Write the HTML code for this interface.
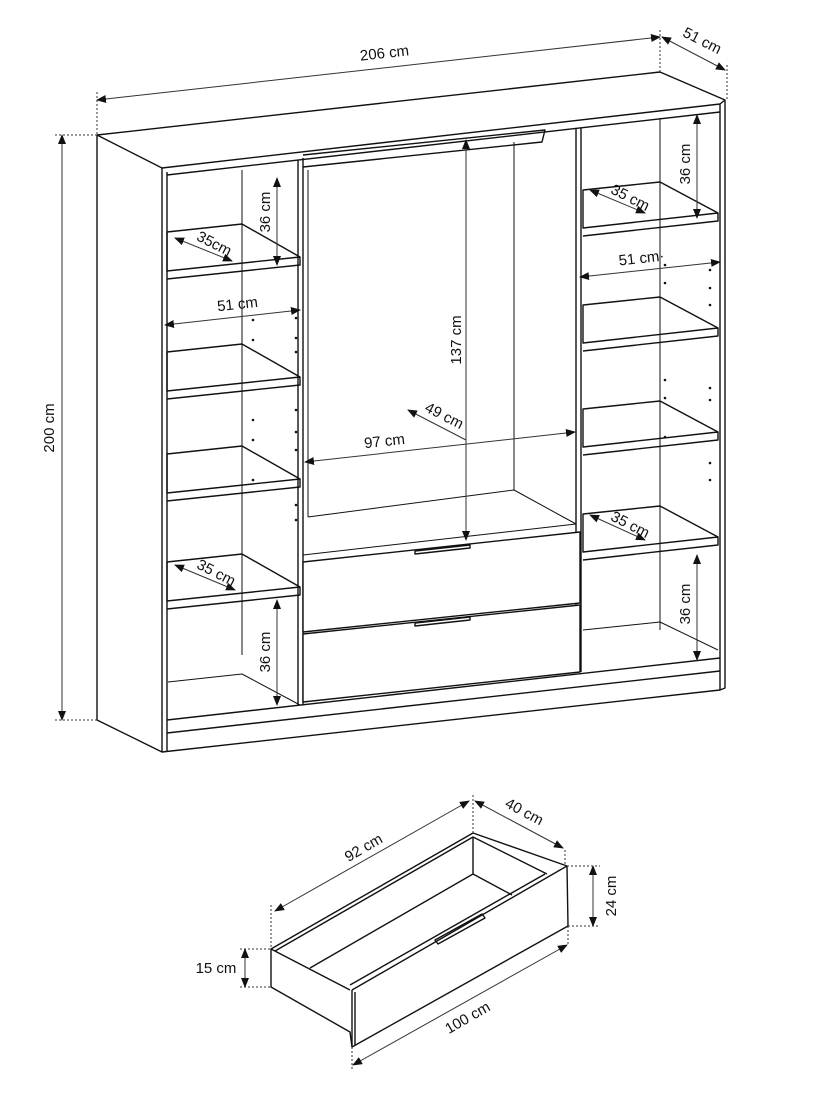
<!DOCTYPE html>
<html><head><meta charset="utf-8"><style>
html,body{margin:0;padding:0;background:#fff}
svg{display:block}
text{font-family:"Liberation Sans",sans-serif;font-size:15px;fill:#111}
</style></head><body>
<svg width="813" height="1100" viewBox="0 0 813 1100" xmlns="http://www.w3.org/2000/svg">
<defs>
<marker id="a" viewBox="0 0 10 10" refX="9" refY="5" markerWidth="10" markerHeight="10" orient="auto-start-reverse" markerUnits="userSpaceOnUse"><path d="M0,1 L10,5 L0,9 z" fill="#111"/></marker>
</defs>
<g fill="none" stroke="#111" stroke-width="1.4" stroke-linejoin="round">
<path d="M97,135 L660,72 L725,100 L725,688 L720,690 L162,752 L97,720 Z" fill="#fff"/>
<path d="M97,135 L162,168 L720,104 L725,100"/>
<path d="M162,168 L162,752 M167,172 L167,752"/>
<path d="M720,104 L720,690"/>
<path d="M167,175 L720,112"/>
<path d="M167,720 L720,658 M167,733 L720,671"/>
<path d="M298,160 L298,705 M303,158 L303,705"/>
<path d="M576,128 L576,672 M581,128 L581,672"/>
<path d="M242,170 L242,655" stroke-width="1"/>
<path d="M168,682 L242,674 L300,705" stroke-width="1"/>
<path d="M167,232 L242,224 L300,257 L167,271 Z M167,279 L300,265 L300,257"/>
<path d="M167,352 L242,344 L300,377 L167,391 Z M167,399 L300,385 L300,377"/>
<path d="M167,454 L242,446 L300,479 L167,493 Z M167,501 L300,487 L300,479"/>
<path d="M167,562 L242,554 L300,587 L167,601 Z M167,609 L300,595 L300,587"/>
<path d="M660,118 L660,630" stroke-width="1"/>
<path d="M583,630 L660,622 L718,650" stroke-width="1"/>
<path d="M583,190 L660,182 L718,213 L583,228 Z M583,236 L718,221 L718,213"/>
<path d="M583,305 L660,297 L718,328 L583,343 Z M583,351 L718,336 L718,328"/>
<path d="M583,409 L660,401 L718,432 L583,447 Z M583,455 L718,440 L718,432"/>
<path d="M583,514 L660,506 L718,537 L583,552 Z M583,560 L718,545 L718,537"/>
<path d="M308,170 L308,517" stroke-width="1"/>
<path d="M514,142 L514,490" stroke-width="1"/>
<path d="M308,517 L514,490 L576,524 L303,555" stroke-width="1"/>
<path d="M303,155 L545,130 L542,142 L303,167"/>
<path d="M303,562 L580,532 L580,603 L303,632 Z" fill="#fff"/>
<path d="M303,634 L580,605 L580,672 L303,702 Z" fill="#fff"/>
<path d="M415,551 L470,545 L470,548 L415,554 Z M415,623 L470,617 L470,620 L415,626 Z"/>
</g>
<g fill="#111">
<circle cx="253" cy="320" r="1.3"/><circle cx="253" cy="340" r="1.3"/><circle cx="296" cy="318" r="1.3"/><circle cx="296" cy="338" r="1.3"/><circle cx="296" cy="352" r="1.3"/>
<circle cx="253" cy="420" r="1.3"/><circle cx="253" cy="440" r="1.3"/><circle cx="296" cy="410" r="1.3"/><circle cx="296" cy="432" r="1.3"/><circle cx="296" cy="450" r="1.3"/>
<circle cx="253" cy="480" r="1.3"/><circle cx="296" cy="505" r="1.3"/><circle cx="296" cy="520" r="1.3"/>
<circle cx="665" cy="265" r="1.3"/><circle cx="665" cy="283" r="1.3"/><circle cx="710" cy="270" r="1.3"/><circle cx="710" cy="288" r="1.3"/><circle cx="710" cy="305" r="1.3"/>
<circle cx="665" cy="380" r="1.3"/><circle cx="665" cy="398" r="1.3"/><circle cx="710" cy="388" r="1.3"/><circle cx="710" cy="400" r="1.3"/>
<circle cx="665" cy="437" r="1.3"/><circle cx="710" cy="463" r="1.3"/><circle cx="710" cy="480" r="1.3"/>
</g>
<g fill="none" stroke="#333" stroke-width="1">
<path d="M97,100 L660,37" marker-start="url(#a)" marker-end="url(#a)"/>
<path d="M662,37 L725,70" marker-start="url(#a)" marker-end="url(#a)"/>
<path d="M62,135 L62,720" marker-start="url(#a)" marker-end="url(#a)"/>
<path d="M277,178 L277,265" marker-start="url(#a)" marker-end="url(#a)"/>
<path d="M277,600 L277,705" marker-start="url(#a)" marker-end="url(#a)"/>
<path d="M697,115 L697,218" marker-start="url(#a)" marker-end="url(#a)"/>
<path d="M697,555 L697,660" marker-start="url(#a)" marker-end="url(#a)"/>
<path d="M466,140 L466,540" marker-start="url(#a)" marker-end="url(#a)"/>
<path d="M305,462 L575,432" marker-start="url(#a)" marker-end="url(#a)"/>
<path d="M408,410 L466,440" marker-start="url(#a)"/>
<path d="M165,325 L300,310" marker-start="url(#a)" marker-end="url(#a)"/>
<path d="M580,277 L720,262" marker-start="url(#a)" marker-end="url(#a)"/>
<path d="M175,238 L232,261" marker-start="url(#a)" marker-end="url(#a)"/>
<path d="M175,565 L235,590" marker-start="url(#a)" marker-end="url(#a)"/>
<path d="M590,190 L645,213" marker-start="url(#a)" marker-end="url(#a)"/>
<path d="M590,515 L645,540" marker-start="url(#a)" marker-end="url(#a)"/>
<path d="M97,92 L97,135 M660,30 L660,72 M727,65 L727,100 M55,135 L97,135 M55,720 L97,720" stroke-dasharray="2,2"/>
</g>
<text transform="translate(385,58) rotate(-6.4)" text-anchor="middle">206 cm</text>
<text transform="translate(700,45) rotate(27)" text-anchor="middle">51 cm</text>
<text transform="translate(54,428) rotate(-90)" text-anchor="middle">200 cm</text>
<text transform="translate(270,212) rotate(-90)" text-anchor="middle">36 cm</text>
<text transform="translate(270,652) rotate(-90)" text-anchor="middle">36 cm</text>
<text transform="translate(690,164) rotate(-90)" text-anchor="middle">36 cm</text>
<text transform="translate(690,604) rotate(-90)" text-anchor="middle">36 cm</text>
<text transform="translate(461,340) rotate(-90)" text-anchor="middle">137 cm</text>
<text transform="translate(385,446) rotate(-6.4)" text-anchor="middle">97 cm</text>
<text transform="translate(442,420) rotate(27)" text-anchor="middle">49 cm</text>
<text transform="translate(238,309) rotate(-6.4)" text-anchor="middle">51 cm</text>
<text transform="translate(642,263) rotate(-6.4)" text-anchor="middle">51 cm·</text>
<text transform="translate(212,248) rotate(27)" text-anchor="middle">35cm</text>
<text transform="translate(214,577) rotate(27)" text-anchor="middle">35 cm</text>
<text transform="translate(628,202) rotate(27)" text-anchor="middle">35 cm</text>
<text transform="translate(628,529) rotate(27)" text-anchor="middle">35 cm</text>
<g fill="none" stroke="#111" stroke-width="1.4" stroke-linejoin="round">
<path d="M271,949 L473,833 L567,866 L568,926 L352,1047 L350,1032 L271,987 Z" fill="#fff"/>
<path d="M271,949 L350,990 M275,951 L473,837 L547,874"/>
<path d="M473,837 L473,874 L310,968 M473,874 L512,895"/>
<path d="M352,990 L567,866 M352,990 L352,1047 M355,992 L355,1045"/>
<path d="M350,985 L545,874"/>
<path d="M435,940 L482,914 L485,918 L438,944 Z"/>
</g>
<g fill="none" stroke="#333" stroke-width="1">
<path d="M275,911 L469,801" marker-start="url(#a)" marker-end="url(#a)"/>
<path d="M475,801 L563,848" marker-start="url(#a)" marker-end="url(#a)"/>
<path d="M593,866 L593,926" marker-start="url(#a)" marker-end="url(#a)"/>
<path d="M245,949 L245,987" marker-start="url(#a)" marker-end="url(#a)"/>
<path d="M353,1065 L567,945" marker-start="url(#a)" marker-end="url(#a)"/>
<path d="M271,905 L271,949 M473,795 L473,833 M565,850 L565,866 M567,866 L600,866 M568,926 L600,926 M240,949 L271,949 M240,987 L271,987 M352,1047 L352,1070 M568,926 L568,945" stroke-dasharray="2,2"/>
</g>
<text transform="translate(366,852) rotate(-30)" text-anchor="middle">92 cm</text>
<text transform="translate(522,816) rotate(28)" text-anchor="middle">40 cm</text>
<text transform="translate(616,896) rotate(-90)" text-anchor="middle">24 cm</text>
<text x="216" y="973" text-anchor="middle">15 cm</text>
<text transform="translate(470,1022) rotate(-30)" text-anchor="middle">100 cm</text>
</svg>
</body></html>
